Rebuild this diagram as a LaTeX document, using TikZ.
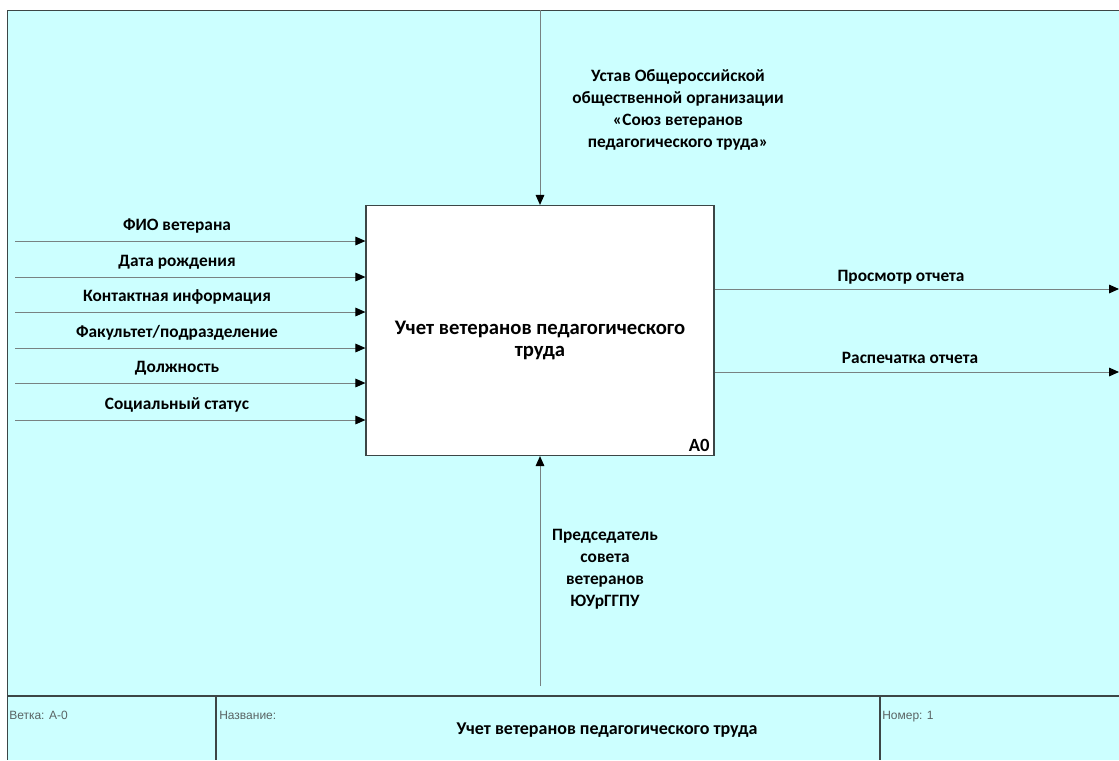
\documentclass[tikz,border=0pt]{standalone}
\usepackage{fontspec}
\setmainfont{Carlito}
\newfontfamily\footfont{Liberation Sans}
\usetikzlibrary{arrows.meta}
\definecolor{bgc}{RGB}{204,255,255}
\definecolor{linec}{RGB}{120,130,130}
\definecolor{framec}{RGB}{60,70,70}
\definecolor{footc}{RGB}{90,100,100}
\tikzset{
  lbl/.style={font=\bfseries\fontsize{13}{16.5}\selectfont, align=center, inner sep=0pt},
  flow/.style={draw=linec, line width=0.75pt, -{Triangle[length=7.5pt,width=6.5pt,fill=black,color=black]}},
  frameline/.style={draw=framec, line width=1.2pt},
  foot/.style={font=\footfont\fontsize{9}{11}\selectfont, text=footc, anchor=base west, inner sep=0pt},
}
\begin{document}
\begin{tikzpicture}[x=0.75pt,y=-0.75pt]
\useasboundingbox (0,0) rectangle (1119,760);
\fill[white] (0,0) rectangle (1119,760);
\fill[bgc] (7,10) rectangle (1119,760);
\draw[frameline] (1119,10.5) -- (7.5,10.5) -- (7.5,760);
\draw[frameline] (7,696) -- (1119,696);
\draw[frameline] (216,696) -- (216,760);
\draw[frameline] (880,696) -- (880,760);

\node[draw=framec, line width=0.9pt, fill=white, minimum width=261pt, minimum height=187.5pt, inner sep=0pt] (box) at (540,330.5) {};
\node[lbl, font=\bfseries\fontsize{15.5}{16.5}\selectfont] (boxtxt) at (540,340) {Учет ветеранов педагогического\\труда};
\node[lbl, anchor=south east] (a0) at ([xshift=-3.5pt,yshift=3pt]box.south east) {\fontsize{14}{16}\selectfont A0};

% inputs
\foreach \n/\y/\t in {1/241/{ФИО ветерана}, 2/277/{Дата рождения}, 3/312/{Контактная информация}, 4/348/{Факультет/подразделение}, 5/383/{Должность}, 6/420/{Социальный статус}}{
  \coordinate (in\n) at (15,\y);
  \draw[flow] (in\n) -- (in\n -| box.west);
  \node[lbl] (il\n) at (177,\y-15) {\t};
}

% outputs
\coordinate (out1) at (1119,289);
\coordinate (out2) at (1119,372);
\draw[flow] (out1 -| box.east) -- (out1);
\draw[flow] (out2 -| box.east) -- (out2);
\node[lbl] (ol1) at (901,277) {Просмотр отчета};
\node[lbl] (ol2) at (910,358) {Распечатка отчета};

% control
\coordinate (ctl) at (540,10);
\draw[flow] (ctl) -- (box.north -| ctl);
\node[lbl] (cl) at (678,110) {Устав Общероссийской\\общественной организации\\«Союз ветеранов\\педагогического труда»};

% mechanism
\coordinate (mech) at (540,686);
\draw[flow] (mech) -- (box.south -| mech);
\node[lbl] (ml) at (605,569) {Председатель\\совета\\ветеранов\\ЮУрГГПУ};

% footer
\node[foot] (f1) at (9,719) {Ветка: A-0};
\node[foot] (f2) at (219,719) {Название:};
\node[foot] (f3) at (882,719) {Номер: 1};
\node[lbl, font=\bfseries\fontsize{13.5}{16}\selectfont] (f4) at (607,730) {Учет ветеранов педагогического труда};
\end{tikzpicture}
\end{document}
